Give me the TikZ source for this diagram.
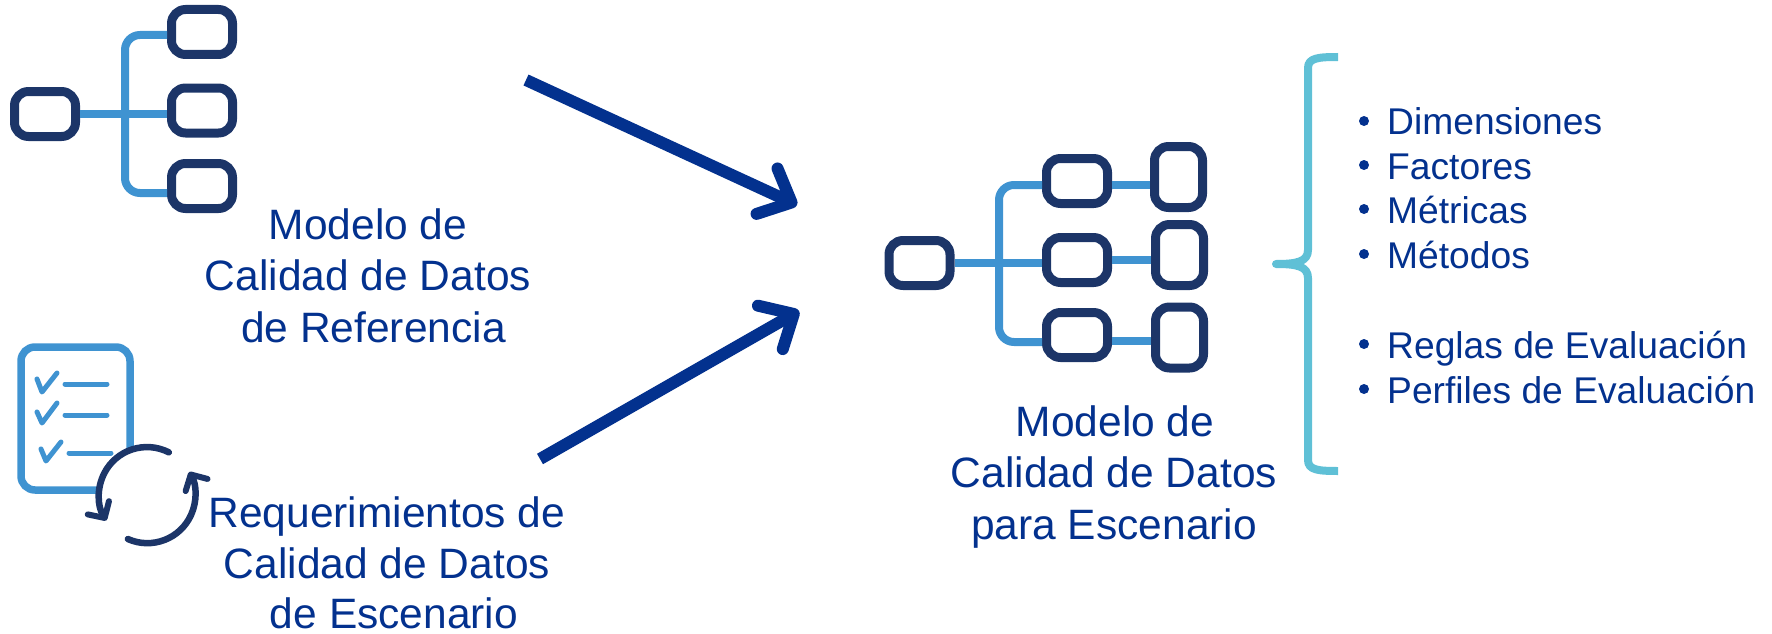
\documentclass[tikz,border=0pt]{standalone}
\usepackage{fontspec}
\setmainfont{Liberation Sans}
\usetikzlibrary{arrows.meta,calc}
\definecolor{navy}{HTML}{1C3568}
\definecolor{sky}{HTML}{3F93D1}
\definecolor{royal}{HTML}{03318E}
\definecolor{teal}{HTML}{5FC0D6}
\tikzset{
  x=1pt,y=-1pt,
  wbox/.style={draw=navy,line width=9pt,rounded corners=14pt,inner sep=0pt,minimum width=61pt,minimum height=45pt},
  tbox/.style={draw=navy,line width=9pt,rounded corners=14pt,inner sep=0pt,minimum width=48pt,minimum height=61pt},
  link/.style={draw=sky,line width=8pt,rounded corners=15pt},
  bigarrow/.style={draw=royal,line width=12pt,-{Straight Barb[length=27pt,width=50pt,line width=12pt,round]}},
  cyclearc/.style={draw=navy,line width=6.5pt,line cap=round,-{Straight Barb[length=12pt,width=25pt,line width=6pt,round]}},
  check/.style={draw=sky,line width=5pt,line cap=round,line join=round},
  label/.style={text=royal,anchor=base,align=center,inner sep=0pt,font=\fontsize{42.5}{50}\selectfont},
  item/.style={text=royal,anchor=base west,inner sep=0pt,font=\fontsize{37.2}{44}\selectfont},
  dot/.style={circle,fill=royal,inner sep=0pt,minimum size=10pt},
}
\begin{document}
\begin{tikzpicture}
\useasboundingbox (0,0) rectangle (1772,634);
% left tree
\node[wbox] (lr) at (45,114) {};
\node[wbox] (l1) at (202,32) {};
\node[wbox] (l2) at (202,110.5) {};
\node[wbox] (l3) at (202,186) {};
\coordinate (ltrunk) at (125,114);
\draw[link] ([yshift=-3pt]l1.west) -- ([yshift=-3pt]l1.west -| ltrunk) -- ([yshift=-7pt]l3.west -| ltrunk) -- ([yshift=-7pt]l3.west);
\draw[link] (lr.east) -- (lr.east -| l2.west);
% checklist
\draw[sky,line width=7.5pt,rounded corners=14pt] (21,347) rectangle (130,490);
\coordinate (c1a) at (37,379); \coordinate (c1b) at (42,392); \coordinate (c1c) at (57,373);
\coordinate (c2a) at (37,412); \coordinate (c2b) at (42,423); \coordinate (c2c) at (57,403);
\coordinate (c3a) at (41,449); \coordinate (c3b) at (46,461); \coordinate (c3c) at (61,442);
\draw[check] (c1a) -- (c1b) -- (c1c);
\draw[check] (c2a) -- (c2b) -- (c2c);
\draw[check] (c3a) -- (c3b) -- (c3c);
\coordinate (d1a) at (65,384); \coordinate (d1b) at (107,384);
\coordinate (d2a) at (65,415); \coordinate (d2b) at (107,415);
\coordinate (d3a) at (69,453); \coordinate (d3b) at (111,453);
\draw[check] (d1a) -- (d1b);
\draw[check] (d2a) -- (d2b);
\draw[check] (d3a) -- (d3b);
% cycle
\fill[white] (147,495) circle (47);
\draw[cyclearc] (168.8,452.3) arc[start angle=-63,end angle=-212,radius=48];
\draw[cyclearc] (127.8,539) arc[start angle=-246,end angle=-389,radius=48];
% big arrows
\coordinate (a1s) at (526,80); \coordinate (a1e) at (797,205);
\coordinate (a2s) at (540,459); \coordinate (a2e) at (799,311);
\draw[bigarrow] (a1s) -- (a1e);
\draw[bigarrow] (a2s) -- (a2e);
% middle tree
\node[wbox] (mr) at (919.5,263) {};
\node[wbox] (m1) at (1077,181) {};
\node[wbox] (m2) at (1077,260) {};
\node[wbox] (m3) at (1077,335) {};
\node[tbox] (n1) at (1178.5,177) {};
\node[tbox] (n2) at (1179.5,255) {};
\node[tbox] (n3) at (1179.5,337.5) {};
\coordinate (mtrunk) at (999,263);
\draw[link] ([yshift=-4pt]m1.west) -- ([yshift=-4pt]m1.west -| mtrunk) -- ([yshift=-7pt]m3.west -| mtrunk) -- ([yshift=-7pt]m3.west);
\draw[link] (mr.east) -- (mr.east -| m2.west);
\draw[link] ([yshift=-4pt]m1.east) -- ([yshift=-4pt]m1.east -| n1.west);
\draw[link] (m2.east) -- (m2.east -| n2.west);
\draw[link] ([yshift=-6pt]m3.east) -- ([yshift=-6pt]m3.east -| n3.west);
% brace
\coordinate (bt) at (1338,57); \coordinate (bm) at (1276,264); \coordinate (bb) at (1338,471);
\draw[teal,line width=8pt,line join=round] (bt) .. controls (1318,57) and (1308,58) .. (1308,68) -- (1308,250)
  .. controls (1308,262) and (1296,264) .. (bm) .. controls (1296,264) and (1308,266) .. (1308,278) -- (1308,460)
  .. controls (1308,470) and (1318,471) .. (bb);
% labels
\node[label] (t1) at (368,239) {Modelo de};
\node[label] (t2) at (368,290) {Calidad de Datos};
\node[label] (t3) at (373.5,342) {de Referencia};
\node[label] (t4) at (387,527) {Requerimientos de};
\node[label] (t5) at (387,578) {Calidad de Datos};
\node[label] (t6) at (394,628) {de Escenario};
\node[label] (t7) at (1115,436) {Modelo de};
\node[label] (t8) at (1114,487) {Calidad de Datos};
\node[label] (t9) at (1114,539) {para Escenario};
% list
\node[dot] (b1) at (1364,121) {}; \node[item] (i1) at (1387,134) {Dimensiones};
\node[dot] (b2) at (1364,165) {}; \node[item] (i2) at (1387,179) {Factores};
\node[dot] (b3) at (1364,209) {}; \node[item] (i3) at (1387,223) {Métricas};
\node[dot] (b4) at (1364,254) {}; \node[item] (i4) at (1387,268) {Métodos};
\node[dot] (b5) at (1364,344) {}; \node[item] (i5) at (1387,358) {Reglas de Evaluación};
\node[dot] (b6) at (1364,389) {}; \node[item] (i6) at (1387,403) {Perfiles de Evaluación};
\end{tikzpicture}
\end{document}
